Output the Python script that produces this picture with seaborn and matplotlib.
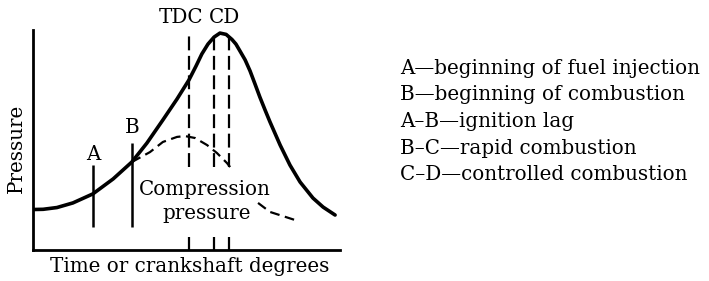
import numpy as np
import pandas as pd
import matplotlib
matplotlib.use("Agg")
import matplotlib.pyplot as plt
import seaborn as sns

# ---- data (arbitrary units 0-100) ----
press_x = [0.0, 3.3, 7.8, 13.0, 19.5, 26.1, 32.2, 37.1, 42.3, 46.9, 50.8, 53.1, 55.0,
           57.0, 59.0, 60.9, 62.9, 64.8, 66.1, 67.4, 69.1, 70.7, 72.3, 73.9, 75.6,
           77.2, 80.5, 83.7, 87.0, 91.2, 94.5, 98.4]
press_y = [18.4, 18.5, 19.3, 21.4, 25.5, 32.3, 40.0, 48.6, 59.1, 68.6, 77.3, 83.6, 89.1,
           93.6, 96.8, 98.6, 98.0, 95.7, 93.6, 90.5, 86.4, 81.4, 75.5, 69.5, 63.6,
           58.2, 47.7, 38.6, 30.9, 23.6, 19.5, 15.9]

comp1_x = [32.2, 38.1, 42.3, 46.9, 49.5, 52.8, 56.7, 59.9, 63.2, 64.2]
comp1_y = [40.0, 44.5, 49.1, 51.4, 51.8, 50.9, 47.7, 44.1, 39.5, 37.7]
comp2_x = [73.3, 77.2, 86.3]
comp2_y = [21.4, 17.3, 13.2]

event_labels = ["A", "B"]
event_x = [19.5, 32.2]
event_top = [38.6, 48.6]
event_bottom = [10.5, 10.5]

dash_labels = ["TDC", "C", "D"]
dash_x = [50.8, 58.8, 63.9]

legend_lines = [
    "A\u2014beginning of fuel injection",
    "B\u2014beginning of combustion",
    "A\u2013B\u2014ignition lag",
    "B\u2013C\u2014rapid combustion",
    "C\u2013D\u2014controlled combustion",
]

# ---- figure ----
sns.set_style("white")
plt.rcParams["font.family"] = ["DejaVu Serif"]
plt.rcParams["text.color"] = "black"
plt.rcParams["lines.scale_dashes"] = False

W, H = 709, 281
FS = 14.3
fig = plt.figure(figsize=(W / 100, H / 100), dpi=100)
ax = fig.add_axes([33 / W, (H - 250) / H, 307 / W, 220 / H])
ax.set_xlim(0, 100)
ax.set_ylim(0, 100)

df = pd.DataFrame({"x": press_x, "y": press_y})
sns.lineplot(data=df, x="x", y="y", ax=ax, color="black", linewidth=2.6,
             estimator=None, sort=False)
ax.lines[-1].set_solid_joinstyle("round")
ax.lines[-1].set_solid_capstyle("round")
for cx, cy in [(comp1_x, comp1_y), (comp2_x, comp2_y)]:
    d = pd.DataFrame({"x": cx, "y": cy})
    sns.lineplot(data=d, x="x", y="y", ax=ax, color="black", linewidth=1.6,
                 estimator=None, sort=False)
    ax.lines[-1].set_dashes((7, 4))

# A and B solid markers
ax.vlines(event_x, event_bottom, event_top, colors="black", linewidth=1.8)
ax.text(event_x[0], 43.5, event_labels[0], ha="center", va="center", fontsize=FS, color="black")
ax.text(event_x[1], 55.5, event_labels[1], ha="center", va="center", fontsize=FS, color="black")

# dashed verticals, broken around the label
for xv in dash_x:
    ax.vlines([xv], 37.7, 97.7, colors="black", linewidth=1.6, linestyles=(0, (10, 4)))
    ax.vlines([xv], 0, 5.9, colors="black", linewidth=1.6, linestyles=(0, (10, 4)))
ax.text(48.3, 105.9, dash_labels[0], ha="center", va="center", fontsize=FS, color="black")
ax.text(62.5, 105.9, dash_labels[1] + dash_labels[2], ha="center", va="center", fontsize=FS, color="black")

ax.text(56.0, 27.3, "Compression", ha="center", va="center", fontsize=FS, color="black")
ax.text(56.7, 16.8, "pressure", ha="center", va="center", fontsize=FS, color="black")

ax.set_xlabel("")
ax.set_ylabel("")
ax.set_xticks([])
ax.set_yticks([])
sns.despine(ax=ax)
for s in ["left", "bottom"]:
    ax.spines[s].set_linewidth(2.0)
    ax.spines[s].set_color("black")

fig.text(16 / W, 1 - 148 / H, "Pressure", rotation=90, ha="center", va="center", fontsize=FS, color="black")
fig.text(190 / W, 1 - 267 / H, "Time or crankshaft degrees", ha="center", va="center", fontsize=FS, color="black")

ys = [68, 95, 122, 148, 175]
for t, yy in zip(legend_lines, ys):
    fig.text(400 / W, 1 - yy / H, t, ha="left", va="center", fontsize=FS, color="black")

fig.savefig("out.png", dpi=100)
